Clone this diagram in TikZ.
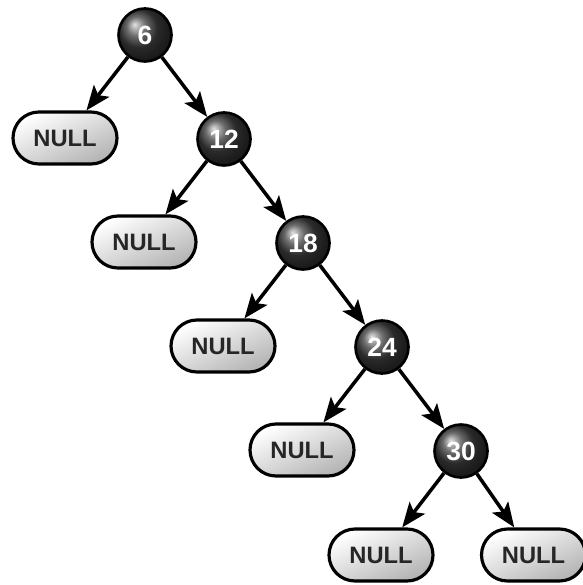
\documentclass[tikz,border=0pt]{standalone}
\usepackage{fontspec}
\setmainfont{Liberation Sans}
\usetikzlibrary{arrows.meta, positioning, shadings}
\definecolor{keyball}{RGB}{60,60,60}
\definecolor{nulldark}{RGB}{180,180,180}
\tikzset{
  keynode/.style={
    circle, minimum size=1.06cm, inner sep=0pt, draw=black, line width=1.5pt,
    ball color=keyball, text=white, font=\fontsize{15}{17}\selectfont\bfseries
  },
  nullnode/.style={
    rectangle, rounded corners=0.52cm, minimum width=2.08cm, minimum height=1.04cm,
    draw=black, line width=1.8pt, top color=white, bottom color=nulldark,
    shading angle=25, text=black!85, font=\fontsize{13.5}{15}\selectfont\bfseries
  },
  treearrow/.style={-{Stealth[length=14pt, width=11pt, inset=3pt]}, line width=2pt}
}
\begin{document}
\begin{tikzpicture}[on grid]
  \useasboundingbox (-2.9,0.7) rectangle (8.74,-11.0);
  % keys down the right spine
  \node[keynode] (n6) {6};
  \node[keynode, below right=2.08cm and 1.58cm of n6] (n12) {12};
  \node[keynode, below right=2.08cm and 1.58cm of n12] (n18) {18};
  \node[keynode, below right=2.08cm and 1.58cm of n18] (n24) {24};
  \node[keynode, below right=2.08cm and 1.58cm of n24] (n30) {30};
  % empty subtrees
  \node[nullnode, below left=2.06cm and 1.6cm of n6] (null6) {NULL};
  \node[nullnode, below left=2.06cm and 1.6cm of n12] (null12) {NULL};
  \node[nullnode, below left=2.06cm and 1.6cm of n18] (null18) {NULL};
  \node[nullnode, below left=2.06cm and 1.6cm of n24] (null24) {NULL};
  \node[nullnode, below left=2.08cm and 1.6cm of n30] (null30l) {NULL};
  \node[nullnode, below right=2.08cm and 1.45cm of n30] (null30r) {NULL};

  \draw[treearrow] (n6) -- (null6);
  \draw[treearrow] (n6) -- (n12);
  \draw[treearrow] (n12) -- (null12);
  \draw[treearrow] (n12) -- (n18);
  \draw[treearrow] (n18) -- (null18);
  \draw[treearrow] (n18) -- (n24);
  \draw[treearrow] (n24) -- (null24);
  \draw[treearrow] (n24) -- (n30);
  \draw[treearrow] (n30) -- (null30l);
  \draw[treearrow] (n30) -- (null30r);
\end{tikzpicture}
\end{document}
